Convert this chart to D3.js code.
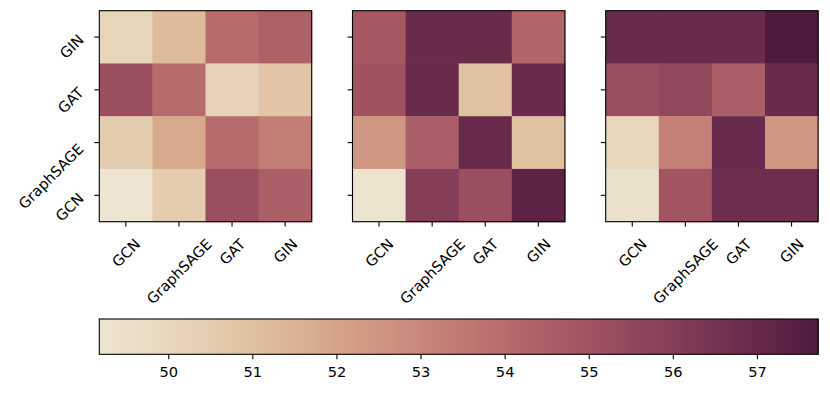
<!DOCTYPE html>
<html>
<head>
<meta charset="utf-8">
<script src="https://cdn.jsdelivr.net/npm/d3@7"></script>
<style>
  body { margin: 0; background: white; }
  svg { display: block; font-family: "DejaVu Sans", sans-serif; }
</style>
</head>
<body>
<svg id="chart" width="830" height="394"></svg>
<script>
// model names, rows drawn top to bottom, columns left to right
var rowLabels = ["GIN", "GAT", "GraphSAGE", "GCN"];
var colLabels = ["GCN", "GraphSAGE", "GAT", "GIN"];

// accuracy values per panel, rows = rowLabels, cols = colLabels
var panel1 = [
    [50.1, 51.2, 54.0, 54.4],
    [55.2, 54.0, 50.2, 50.8],
    [50.5, 51.8, 54.0, 53.3],
    [49.18, 50.5, 55.2, 54.5]
];
var panel2 = [
    [54.8, 56.9, 56.9, 54.2],
    [55.0, 56.9, 51.0, 56.9],
    [52.5, 54.5, 56.9, 51.0],
    [49.3, 56.0, 55.2, 57.3]
];
var panel3 = [
    [56.9, 56.9, 56.9, 57.73],
    [55.2, 55.5, 54.5, 56.9],
    [50.0, 53.2, 56.9, 52.5],
    [49.4, 54.9, 56.8, 56.8]
];
var colorbarTicks = [50, 51, 52, 53, 54, 55, 56, 57];

// colormap stops (beige -> dark purple)
var cmapValues = [49.18, 50, 51, 52, 53, 54, 55, 56, 57, 57.73];
var cmapColors = ["#ede5d1", "#e8d7bd", "#e0c1a0", "#d5a488", "#c8877a",
                  "#b76b6c", "#a05260", "#843e58", "#66294b", "#4f1b3c"];

var svg = d3.select("#chart");
var fontSize = 14.6;
var tickLen = 4.9;

var color = d3.scaleLinear().domain(cmapValues).range(cmapColors).clamp(true);

var panelW = 212.4, panelH = 211, panelTop = 10.7;
var panelLefts = [99.3, 352.5, 605.7];
var panels = [panel1, panel2, panel3];

panels.forEach(function (data, p) {
    var g = svg.append("g").attr("transform", "translate(" + panelLefts[p] + "," + panelTop + ")");
    var x = d3.scaleBand().domain(colLabels).range([0, panelW]);
    var y = d3.scaleBand().domain(rowLabels).range([0, panelH]);

    var cells = [];
    data.forEach(function (row, i) {
        row.forEach(function (v, j) {
            cells.push({ r: rowLabels[i], c: colLabels[j], v: v });
        });
    });
    g.selectAll("rect.cell")
        .data(cells)
        .enter().append("rect")
        .attr("class", "cell")
        .attr("x", d => x(d.c))
        .attr("y", d => y(d.r))
        .attr("width", x.bandwidth() + 0.5)
        .attr("height", y.bandwidth() + 0.5)
        .attr("fill", d => color(d.v));

    g.append("rect")
        .attr("width", panelW).attr("height", panelH)
        .attr("fill", "none").attr("stroke", "black").attr("stroke-width", 1.1);

    // x ticks + rotated labels
    colLabels.forEach(function (c) {
        var cx = x(c) + x.bandwidth() / 2;
        g.append("line")
            .attr("x1", cx).attr("x2", cx)
            .attr("y1", panelH).attr("y2", panelH + tickLen)
            .attr("stroke", "black").attr("stroke-width", 1.1);
        var t = g.append("text")
            .text(c)
            .attr("font-size", fontSize)
            .attr("text-anchor", "middle")
            .attr("dominant-baseline", "central");
        var w = t.node().getComputedTextLength();
        var cy = panelH + 15.8 + 0.354 * (w + 10.5);
        t.attr("transform", "translate(" + cx + "," + cy + ") rotate(-45)");
    });

    // y ticks, labels only on first panel
    rowLabels.forEach(function (r) {
        var cy = y(r) + y.bandwidth() / 2;
        g.append("line")
            .attr("x1", -tickLen).attr("x2", 0)
            .attr("y1", cy).attr("y2", cy)
            .attr("stroke", "black").attr("stroke-width", 1.1);
        if (p === 0) {
            var t = g.append("text")
                .text(r)
                .attr("font-size", fontSize)
                .attr("text-anchor", "middle")
                .attr("dominant-baseline", "central");
            var w = t.node().getComputedTextLength();
            var lx = -14.8 - 0.354 * (w + 10.5);
            var ly = cy + 0.42 * w - 2;
            t.attr("transform", "translate(" + lx + "," + ly + ") rotate(-45)");
        }
    });
});

// colorbar
var cbLeft = 99.3, cbRight = 818.3, cbTop = 319, cbBottom = 354.3;
var cbScale = d3.scaleLinear().domain([cmapValues[0], cmapValues[cmapValues.length - 1]])
    .range([cbLeft, cbRight]);

var grad = svg.append("defs").append("linearGradient")
    .attr("id", "cbgrad")
    .attr("x1", "0%").attr("x2", "100%").attr("y1", "0%").attr("y2", "0%");
grad.selectAll("stop")
    .data(cmapValues)
    .enter().append("stop")
    .attr("offset", d => ((cbScale(d) - cbLeft) / (cbRight - cbLeft) * 100) + "%")
    .attr("stop-color", d => color(d));

svg.append("rect")
    .attr("x", cbLeft).attr("y", cbTop)
    .attr("width", cbRight - cbLeft).attr("height", cbBottom - cbTop)
    .attr("fill", "url(#cbgrad)")
    .attr("stroke", "black").attr("stroke-width", 1.1);

var cbAxis = d3.axisBottom(cbScale)
    .tickValues(colorbarTicks)
    .tickSize(tickLen)
    .tickPadding(7.5)
    .tickFormat(d3.format("d"));
var ax = svg.append("g")
    .attr("transform", "translate(0," + cbBottom + ")")
    .call(cbAxis);
ax.select(".domain").remove();
ax.selectAll(".tick line").attr("stroke", "black").attr("stroke-width", 1.1);
ax.selectAll(".tick text")
    .attr("font-size", fontSize)
    .attr("font-family", "DejaVu Sans")
    .attr("fill", "black");
</script>
</body>
</html>
